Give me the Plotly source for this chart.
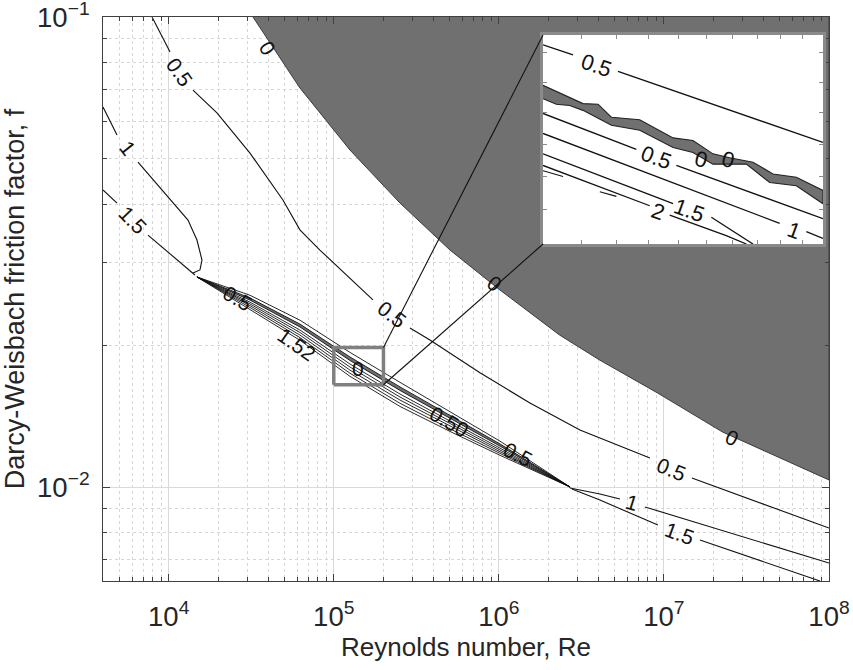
import numpy as np
import plotly.graph_objects as go

# ---------------- data ----------------
RE_RANGE = [4000, 1e8]
F_RANGE = [10 ** -2.2, 0.1]

# shaded region boundary (value < 0), upper-right
BOUND_RE = [32400, 62370, 125300, 251800, 505800, 1.016e6, 2.334e6, 4.077e6, 9.155e6, 2.266e7, 1e8]
BOUND_F = [0.1, 0.07063, 0.05212, 0.04019, 0.03193, 0.02625, 0.02105, 0.01863, 0.01585, 0.01309, 0.01035]

# 0.5 contour (long curve)
C05_RE = [7925, 10190, None, 14030, 19600, 31000, 49200, 62370, 82400, 172700, None,
          289400, 382400, 768500, 1.543e6, 3.099e6, 8.226e6, None, 1.477e7, 9.99e7]
C05_F = [0.1, 0.0842, None, 0.0699, 0.0625, 0.0514, 0.0408, 0.03524, 0.03193, 0.025, None,
         0.02179, 0.02055, 0.0175, 0.01509, 0.01322, 0.01153, None, 0.01045, 0.00818]

# 1 contour (upper-left, with hook at the cusp)
C1_RE = [4000, 4864, None, 6517, 13090, 14830, 15910, 15470, 14030]
C1_F = [0.06433, 0.0561, None, 0.04914, 0.03698, 0.03353, 0.0304, 0.02897, 0.02852]
# 1.5 contour (upper-left)
C15_RE = [4000, 4864, None, 7492, 12550, 14420]
C15_F = [0.04285, 0.04019, None, 0.03436, 0.02938, 0.02825]
# 1 and 1.5 contours (lower-right)
C1B_RE = [2.695e6, 4.096e6, 5.413e6, None, 7.672e6, 1e8]
C1B_F = [0.00995, 0.00966, 0.00943, None, 0.00907, 0.00689]
C15B_RE = [2.772e6, 4.096e6, 9.196e6, None, 1.653e7, 8.81e7]
C15B_F = [0.0099, 0.00938, 0.0083, None, 0.00771, 0.00631]

# dense bundle of contours along the smooth-pipe line
BUNDLE_RE = [14830, 31050, 62400, 125300, 251800, 505800, 1.016e6, 2.70e6]
BUNDLE_F = [
    [0.02798, 0.02559, 0.02264, 0.01934, 0.01670, 0.01449, 0.01252, 0.0100],
    [0.02798, 0.02525, 0.02221, 0.01891, 0.01633, 0.01422, 0.01235, 0.0100],
    [0.02798, 0.02499, 0.02190, 0.01859, 0.01605, 0.01401, 0.01222, 0.0100],
    [0.02798, 0.02474, 0.02158, 0.01827, 0.01577, 0.01381, 0.01210, 0.0100],
    [0.02798, 0.02453, 0.02132, 0.01800, 0.01554, 0.01364, 0.01200, 0.0100],
    [0.02798, 0.02432, 0.02105, 0.01773, 0.01531, 0.01347, 0.01189, 0.0100],
    [0.02798, 0.02410, 0.02079, 0.01746, 0.01507, 0.01330, 0.01179, 0.0100],
    [0.02798, 0.02389, 0.02052, 0.01720, 0.01484, 0.01313, 0.01168, 0.0100],
]

# contour labels: text, Re, f, angle
MAIN_LABELS = [
    ("0.5", 11700, 0.0763, 55), ("1", 5700, 0.0526, 52), ("1.5", 6000, 0.0370, 46),
    ("0", 39940, 0.0859, 57), ("0", 9.47e5, 0.02716, 38),
    ("0.5", 225200, 0.02323, 38), ("0.5", 1.118e7, 0.01092, 22), ("0", 2.57e7, 0.01272, 25),
    ("1", 6.4e6, 0.00925, 17), ("1.5", 1.25e7, 0.00798, 20),
    ("0.5", 26290, 0.02523, 30), ("1.52", 59800, 0.02006, 35), ("0", 140000, 0.01791, 0),
    ("0.50", 4.99e5, 0.0138, 30), ("0.5", 1.306e6, 0.0117, 28),
]

# ---------------- inset (zoom of the boxed region) ----------------
INSET_RE = [1.0e5, 2.0e5]
INSET_F = [0.0165, 0.0198]
INSET_DOMAIN_X = [0.6061, 0.9917]
INSET_DOMAIN_Y = [0.5975, 0.9681]

IN05_RE = [100000, 107710, None, 120400, 200000]
IN05_F = [0.01963, 0.01946, None, 0.01918, 0.01803]
BAND_UP_RE = [100000, 110400, 114600, 118450, 127050, 137990, 144960, 152300, 158740, 168180, 176720, 187240, 200000]
BAND_UP_F = [0.01895, 0.01865, 0.01864, 0.01843, 0.01839, 0.0181, 0.01806, 0.01785, 0.01779, 0.01772, 0.01754, 0.01749, 0.01729]
BAND_LO_RE = [100000, 103350, 106820, 110400, 118450, 127050, 137990, 144960, 152300, 165450, 175270, 187240, 200000]
BAND_LO_F = [0.01873, 0.01864, 0.01862, 0.01854, 0.0183, 0.01822, 0.01795, 0.01787, 0.01769, 0.01769, 0.01741, 0.01736, 0.01709]
INA_RE = [100000, 126000, None, 139110, 200000]
INA_F = [0.01849, 0.01792, None, 0.01767, 0.01687]
INB_RE = [100000, 179660, None, 191940, 200000]
INB_F = [0.01817, 0.0168, None, 0.01668, 0.01658]
INC_RE = [100000, 137990, None, 151700, 168180]
INC_F = [0.01785, 0.01709, None, 0.01689, 0.0165]
IND_RE = [100000, 130240, None, 136850, 157400, 165450]
IND_F = [0.01767, 0.01706, None, 0.01692, 0.01662, 0.0165]
INE_RE = [100000, 105080, None, 115100, 119910]
INE_F = [0.01759, 0.0175, None, 0.01727, 0.0172]
INSET_LABELS = [
    ("0.5", 114100, 0.01928, 19), ("0.5", 132400, 0.0178, 20), ("0", 148000, 0.01777, 15),
    ("0", 158100, 0.01777, 15), ("1", 186000, 0.0167, 20), ("1.5", 143800, 0.01699, 20),
    ("2", 132900, 0.01698, 20),
]
INSET_XTICKS = [1.1e5, 1.2e5, 1.3e5, 1.4e5, 1.5e5, 1.6e5, 1.7e5, 1.8e5, 1.9e5]
INSET_YTICKS = [0.0170, 0.0175, 0.0180, 0.0185, 0.0190, 0.0195]

# ---------------- styles ----------------
FONT = "Liberation Sans, Arial, Helvetica, sans-serif"
LINE = dict(color="#111111", width=1.1)
GRAY = "#707070"

fig = go.Figure()

# shaded region
fig.add_trace(go.Scatter(x=BOUND_RE + [RE_RANGE[1]], y=BOUND_F + [F_RANGE[1]], mode="lines",
                         fill="toself", fillcolor=GRAY, line=dict(color="#3a3a3a", width=1),
                         hoverinfo="skip"))

for xs, ys in [(C05_RE, C05_F), (C1_RE, C1_F), (C15_RE, C15_F), (C1B_RE, C1B_F), (C15B_RE, C15B_F)]:
    fig.add_trace(go.Scatter(x=xs, y=ys, mode="lines", line=LINE, connectgaps=False, hoverinfo="skip"))

# bundle: thin shaded band between 2nd and 3rd lines
fig.add_trace(go.Scatter(x=BUNDLE_RE + BUNDLE_RE[::-1], y=BUNDLE_F[1] + BUNDLE_F[2][::-1],
                         mode="lines", fill="toself", fillcolor=GRAY, line=dict(width=0),
                         hoverinfo="skip"))
for fl in BUNDLE_F:
    fig.add_trace(go.Scatter(x=BUNDLE_RE, y=fl, mode="lines",
                             line=dict(color="#111111", width=0.9), hoverinfo="skip"))

# zoom box on main axes
fig.add_trace(go.Scatter(x=[INSET_RE[0], INSET_RE[1], INSET_RE[1], INSET_RE[0], INSET_RE[0]],
                         y=[INSET_F[0], INSET_F[0], INSET_F[1], INSET_F[1], INSET_F[0]],
                         mode="lines", line=dict(color="#808080", width=3.5), hoverinfo="skip"))

# ---------------- inset traces ----------------
ia = dict(xaxis="x2", yaxis="y2", hoverinfo="skip")
fig.add_trace(go.Scatter(x=[INSET_RE[0], INSET_RE[1], INSET_RE[1], INSET_RE[0], INSET_RE[0]],
                         y=[INSET_F[0], INSET_F[0], INSET_F[1], INSET_F[1], INSET_F[0]],
                         mode="lines", fill="toself", fillcolor="white", line=dict(width=0), **ia))
fig.add_trace(go.Scatter(x=BAND_UP_RE + BAND_LO_RE[::-1], y=BAND_UP_F + BAND_LO_F[::-1],
                         mode="lines", fill="toself", fillcolor=GRAY,
                         line=dict(color="#222222", width=1.1), **ia))
for xs, ys in [(IN05_RE, IN05_F), (INA_RE, INA_F), (INB_RE, INB_F), (INC_RE, INC_F), (IND_RE, IND_F)]:
    fig.add_trace(go.Scatter(x=xs, y=ys, mode="lines", line=dict(color="#111111", width=1.3),
                             connectgaps=False, **ia))
fig.add_trace(go.Scatter(x=INE_RE, y=INE_F, mode="lines", line=dict(color="#111111", width=1.1),
                         connectgaps=False, **ia))

# ---------------- annotations ----------------
ann = []
for t, r, f, a in MAIN_LABELS:
    ann.append(dict(x=np.log10(r), y=np.log10(f), xref="x", yref="y", text=t, showarrow=False,
                    textangle=a, font=dict(family=FONT, size=21, color="#111111")))
for t, r, f, a in INSET_LABELS:
    ann.append(dict(x=np.log10(r), y=np.log10(f), xref="x2", yref="y2", text=t, showarrow=False,
                    textangle=a, font=dict(family=FONT, size=22, color="#111111")))

# connector lines: box corners -> inset corners (paper coords from the axis ranges)
lx0, lx1 = np.log10(RE_RANGE[0]), np.log10(RE_RANGE[1])
ly0, ly1 = np.log10(F_RANGE[0]), np.log10(F_RANGE[1])
bx = (np.log10(INSET_RE[1]) - lx0) / (lx1 - lx0)
by_top = (np.log10(INSET_F[1]) - ly0) / (ly1 - ly0)
by_bot = (np.log10(INSET_F[0]) - ly0) / (ly1 - ly0)
shapes = [
    dict(type="line", xref="paper", yref="paper", x0=bx, y0=by_top,
         x1=INSET_DOMAIN_X[0], y1=INSET_DOMAIN_Y[1], line=dict(color="#111111", width=1.1)),
    dict(type="line", xref="paper", yref="paper", x0=bx, y0=by_bot,
         x1=INSET_DOMAIN_X[0], y1=INSET_DOMAIN_Y[0], line=dict(color="#111111", width=1.1)),
]

axcol = "#404040"
tickfont = dict(family=FONT, size=22, color="#262626")
fig.update_layout(
    width=853, height=670,
    margin=dict(l=103, r=24, t=17, b=89, autoexpand=False),
    paper_bgcolor="white", plot_bgcolor="white",
    showlegend=False,
    font=dict(family=FONT, color="#262626"),
    annotations=ann, shapes=shapes,
    xaxis=dict(type="log", range=[lx0, lx1 + 1e-6], dtick=1, exponentformat="power",
               automargin=False,
               showline=True, linecolor=axcol, linewidth=1, mirror="allticks",
               ticks="inside", ticklen=7, tickcolor=axcol, ticklabelstandoff=12,
               ticklabeloverflow="allow",
               showgrid=True, gridcolor="#d9d9d9",
               minor=dict(dtick="D1", ticks="inside", ticklen=4, tickcolor=axcol,
                          showgrid=True, gridcolor="#d6d6d6", griddash="dot"),
               tickfont=tickfont,
               title=dict(text="Reynolds number, Re", font=dict(family=FONT, size=26, color="#262626"),
                          standoff=6),
               zeroline=False),
    yaxis=dict(type="log", range=[ly0, ly1 + 1e-6], dtick=1, exponentformat="power",
               automargin=False,
               showline=True, linecolor=axcol, linewidth=1, mirror="allticks",
               ticks="inside", ticklen=7, tickcolor=axcol, ticklabelstandoff=8,
               ticklabeloverflow="allow",
               showgrid=True, gridcolor="#d9d9d9",
               minor=dict(dtick="D1", ticks="inside", ticklen=4, tickcolor=axcol,
                          showgrid=True, gridcolor="#d6d6d6", griddash="dot"),
               tickfont=tickfont,
               title=dict(text="Darcy-Weisbach friction factor, f",
                          font=dict(family=FONT, size=27, color="#262626"), standoff=10),
               zeroline=False),
    xaxis2=dict(type="log", range=[np.log10(INSET_RE[0]), np.log10(INSET_RE[1])],
                domain=INSET_DOMAIN_X, anchor="y2", showline=True, mirror="allticks",
                linecolor="#8a8a8a", linewidth=3, ticks="inside", ticklen=4, tickcolor="#8a8a8a",
                tickvals=INSET_XTICKS, showticklabels=False, showgrid=False, zeroline=False),
    yaxis2=dict(type="log", range=[np.log10(INSET_F[0]), np.log10(INSET_F[1])],
                domain=INSET_DOMAIN_Y, anchor="x2", showline=True, mirror="allticks",
                linecolor="#8a8a8a", linewidth=3, ticks="inside", ticklen=4, tickcolor="#8a8a8a",
                tickvals=INSET_YTICKS, showticklabels=False, showgrid=False, zeroline=False),
)

fig.write_html("out.html")
